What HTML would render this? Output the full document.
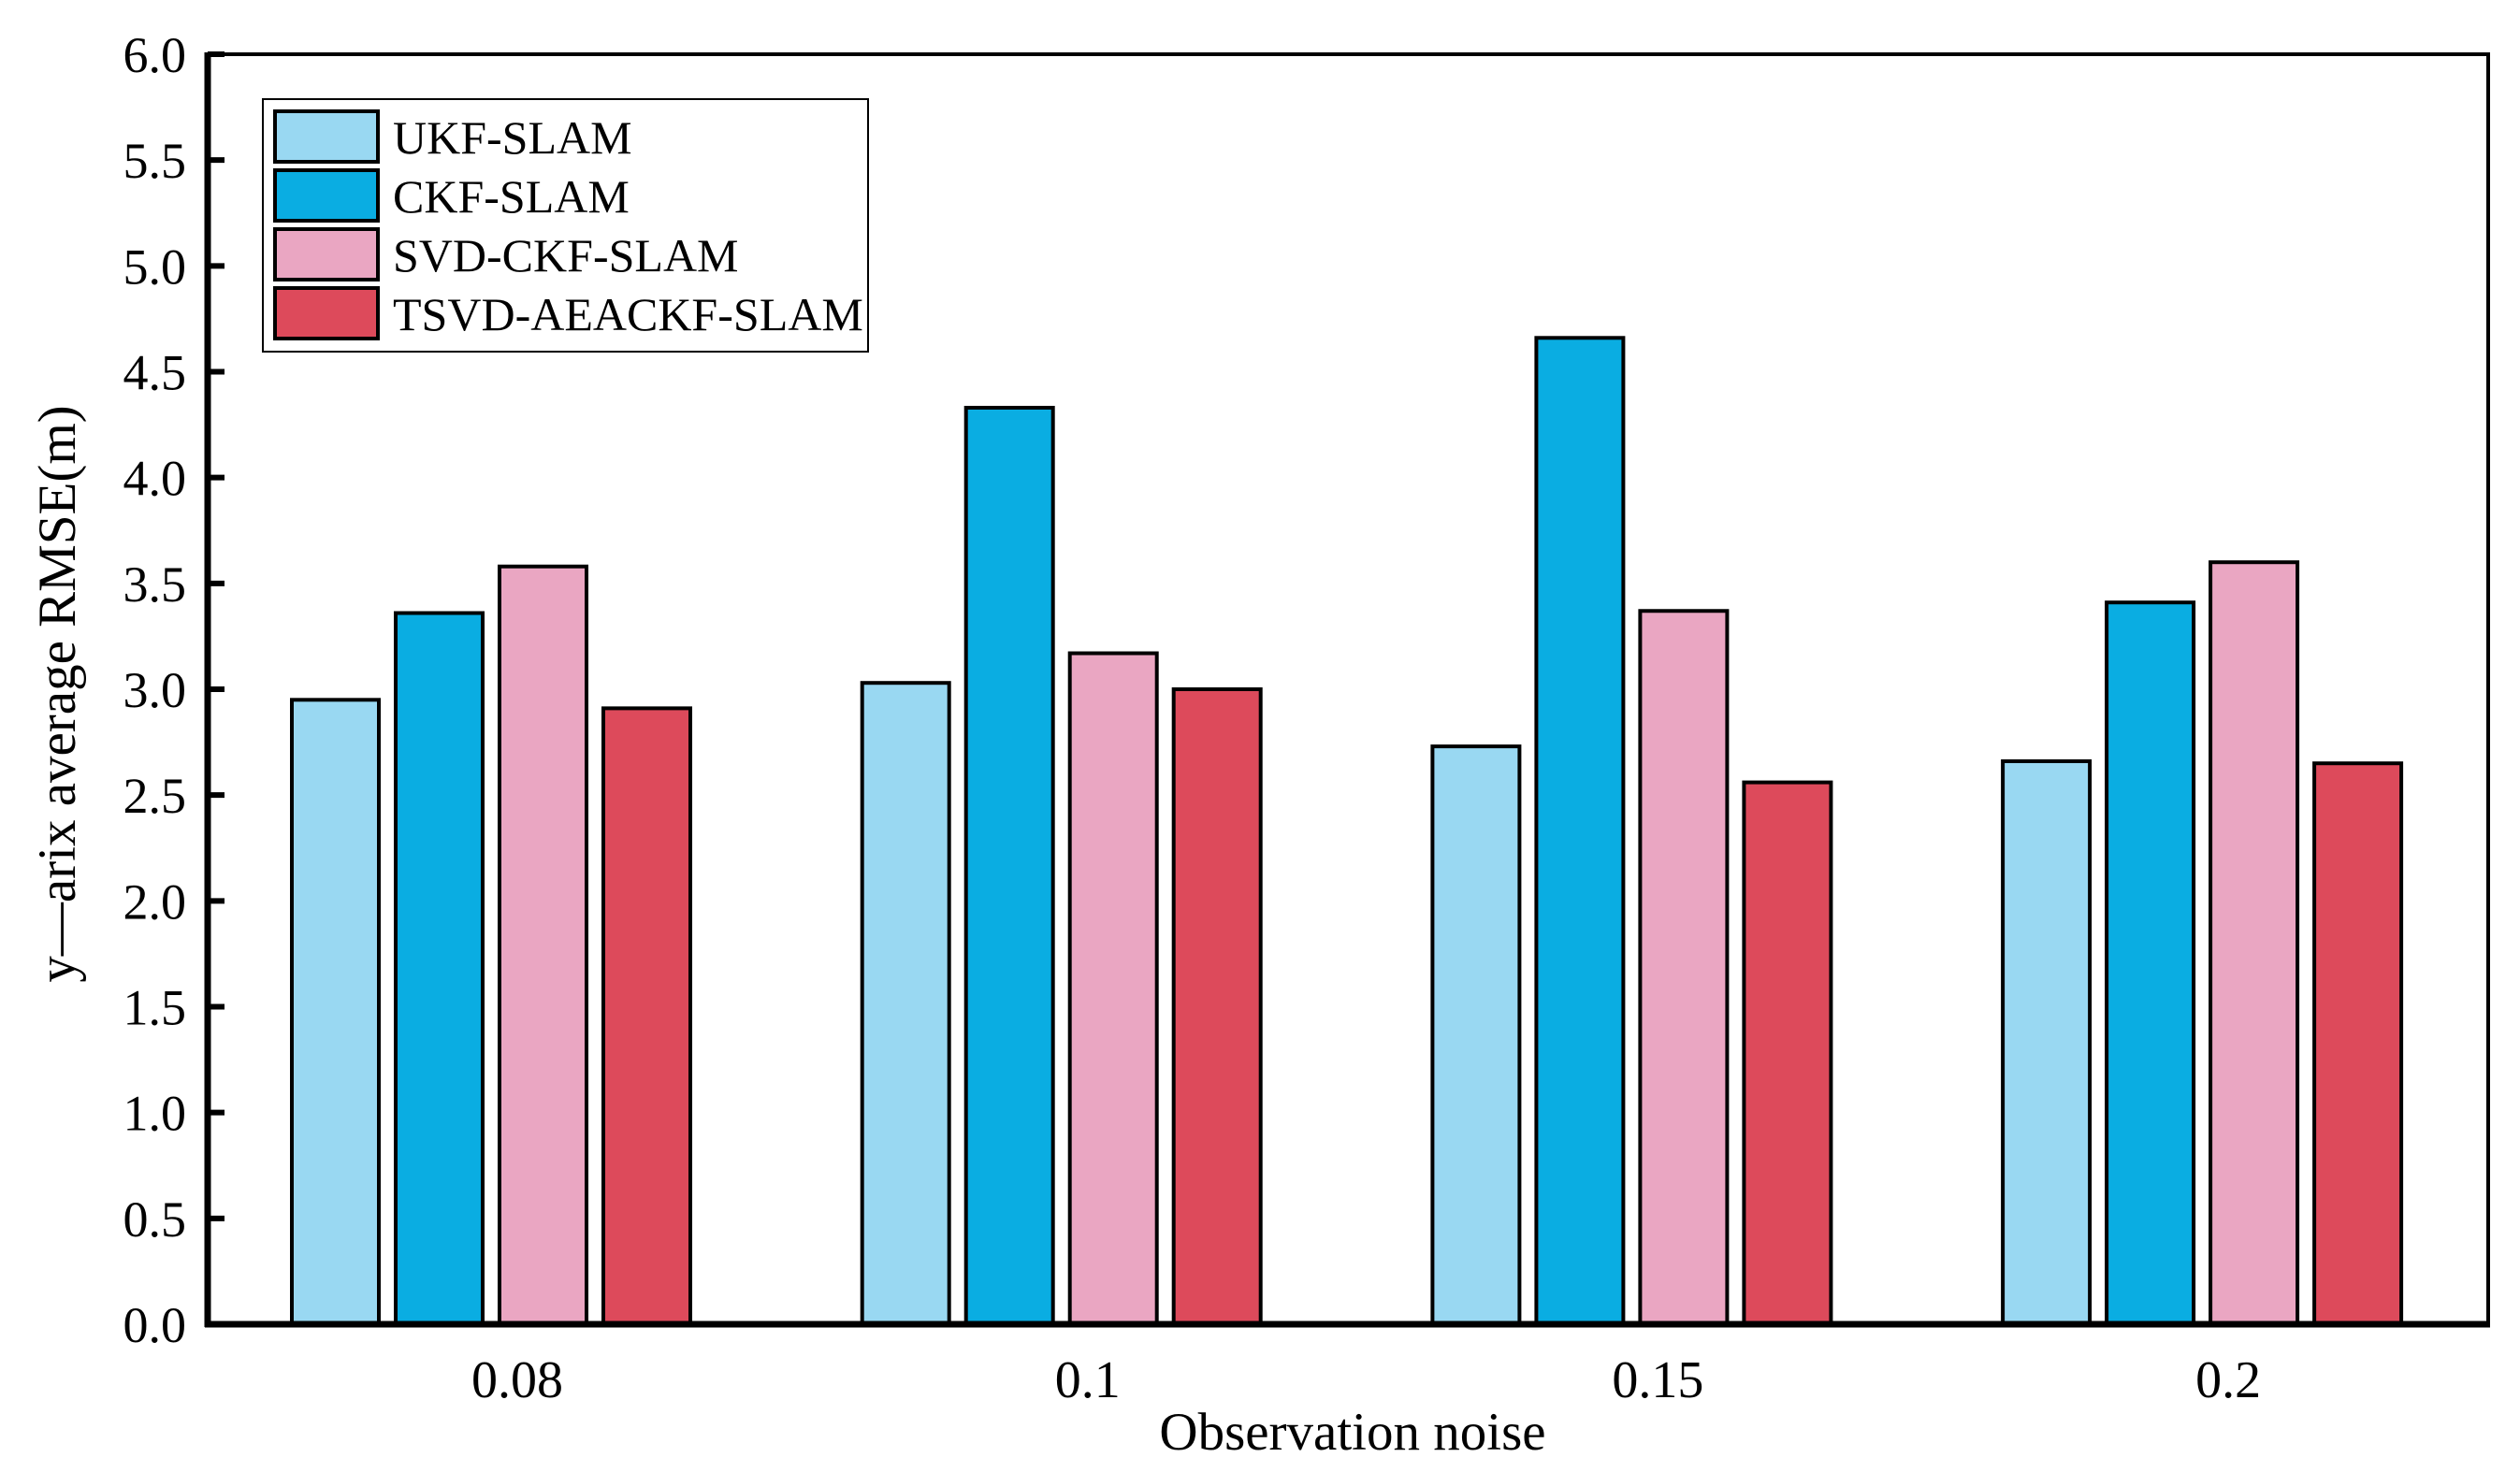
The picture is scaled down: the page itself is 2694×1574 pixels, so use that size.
<!DOCTYPE html>
<html><head><meta charset="utf-8">
<style>
html,body{margin:0;padding:0;background:#fff;}
svg{display:block;}
text{font-family:"Liberation Serif",serif;fill:#000;}
</style></head>
<body>
<svg id="chart" width="2694" height="1574" viewBox="0 0 2694 1574">
<g id="bars"></g>
<g id="axes"></g>
</svg>
<script>
const categories = ["0.08", "0.1", "0.15", "0.2"];
const seriesNames = ["UKF-SLAM", "CKF-SLAM", "SVD-CKF-SLAM", "TSVD-AEACKF-SLAM"];
const ukf = [2.95, 3.03, 2.73, 2.66];
const ckf = [3.36, 4.33, 4.66, 3.41];
const svd = [3.58, 3.17, 3.37, 3.60];
const tsvd = [2.91, 3.00, 2.56, 2.65];
const yTicks = ["0.0","0.5","1.0","1.5","2.0","2.5","3.0","3.5","4.0","4.5","5.0","5.5","6.0"];

const series = [ukf, ckf, svd, tsvd];
const colors = ["#99d8f2", "#0aade2", "#eaa6c2", "#dd4a5b"];
const NS = "http://www.w3.org/2000/svg";
const L = 222, R = 2660, T = 58, B = 1416, YMAX = 6;
const groupStart0 = 312, groupStep = 609.7, barStep = 111, barW = 93;
function y(v){ return B - (v / YMAX) * (B - T); }
function gx(i){ return groupStart0 + i * groupStep; }
function mk(tag, attrs, parent){
  const e = document.createElementNS(NS, tag);
  for (const k in attrs) e.setAttribute(k, attrs[k]);
  parent.appendChild(e); return e;
}
const svg = document.getElementById('chart');
const barsG = document.getElementById('bars');
const axesG = document.getElementById('axes');

series.forEach((vals, s) => {
  vals.forEach((v, i) => {
    const r = mk('rect', {x: gx(i) + s * barStep, y: y(v), width: barW, height: B - y(v),
      fill: colors[s], stroke: '#000', 'stroke-width': 4}, barsG);
    
    
  });
});

const frame = mk('rect', {x: L, y: T, width: R - L, height: B - T, fill: 'none', stroke: '#000', 'stroke-width': 4}, axesG);


const yAxis = mk('line', {x1: L, y1: T - 2, x2: L, y2: B + 3, stroke: '#000', 'stroke-width': 7}, axesG);


const xAxis = mk('line', {x1: L - 3, y1: B, x2: R + 2, y2: B, stroke: '#000', 'stroke-width': 7}, axesG);



yTicks.forEach((t) => {
  const v = parseFloat(t);
  const tk = mk('line', {x1: L, y1: y(v), x2: L + 18, y2: y(v), stroke: '#000', 'stroke-width': 6}, axesG);
  
  
  const tx = mk('text', {x: 199, y: y(v) + 19, 'font-size': 54, 'text-anchor': 'end'}, axesG);
  tx.textContent = t;
  
  
});

categories.forEach((c, i) => {
  const cx = gx(i) + (3 * barStep + barW) / 2 + 28;
  const tx = mk('text', {x: cx, y: 1494, 'font-size': 56, 'text-anchor': 'middle'}, axesG);
  tx.textContent = c;
  
  
});

const xt = mk('text', {x: 1446, y: 1550, 'font-size': 57, 'text-anchor': 'middle'}, axesG);
xt.textContent = 'Observation noise';


const yt = mk('text', {x: 0, y: 0, 'font-size': 57, 'text-anchor': 'middle', transform: 'translate(80,742) rotate(-90)'}, axesG);
yt.textContent = 'y\u2014arix average RMSE(m)';



const lg = mk('g', {}, svg);


const lb = mk('rect', {x: 281, y: 106, width: 647, height: 270, fill: '#fff', stroke: '#000', 'stroke-width': 2}, lg);


seriesNames.forEach((n, s) => {
  const top = 119 + s * 63;
  const sw = mk('rect', {x: 294, y: top, width: 110, height: 54, fill: colors[s], stroke: '#000', 'stroke-width': 4}, lg);
  
  
  const tx = mk('text', {x: 420, y: top + 45, 'font-size': 50}, lg);
  tx.textContent = n;
  
  
});
</script>
</body></html>
